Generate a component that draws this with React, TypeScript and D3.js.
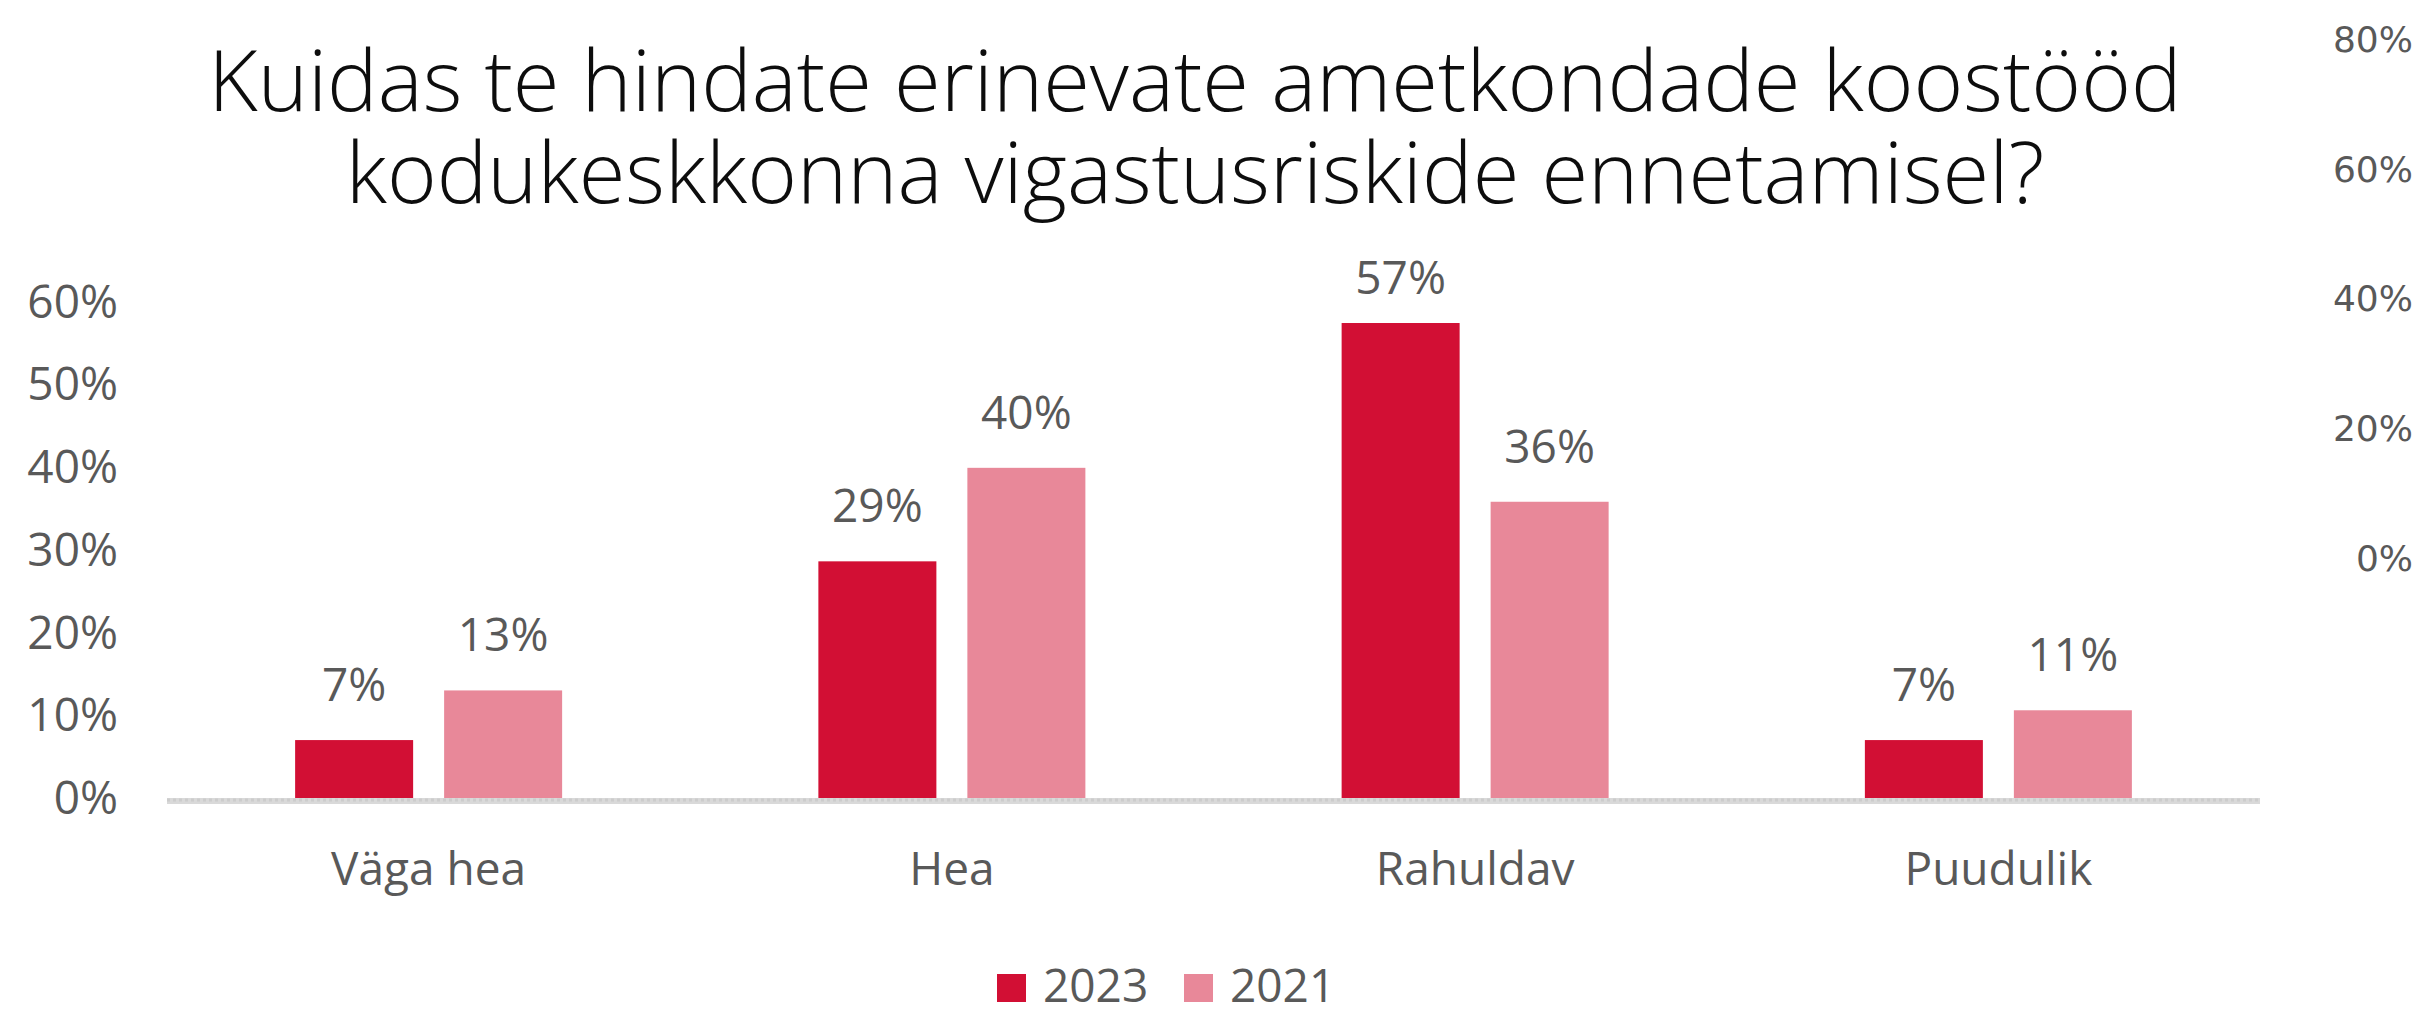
import React from "react";
import * as d3 from "d3";

const titleLines = [
  "Kuidas te hindate erinevate ametkondade koostööd",
  "kodukeskkonna vigastusriskide ennetamisel?",
];
const categories = ["Väga hea", "Hea", "Rahuldav", "Puudulik"];
const seriesNames = ["2023", "2021"];
const values2023 = [7, 28.6, 57.4, 7];
const values2021 = [13, 39.9, 35.8, 10.6];
const leftTicks = [0, 10, 20, 30, 40, 50, 60];
const rightTicks = [0, 20, 40, 60, 80];
const colors = ["#D20F34", "#E88899"];

const W = 2429;
const H = 1009;

export default function App() {
  const x0 = d3.scaleBand<string>().domain(categories).range([167, 2260]).padding(0);
  const x1 = d3
    .scaleBand<string>()
    .domain(seriesNames)
    .range([-133.5, 133.5])
    .paddingInner(0.208)
    .paddingOuter(0);
  const y = d3.scaleLinear().domain([0, 60]).range([798, 301.5]);
  const yR = d3.scaleLinear().domain([0, 80]).range([558, 39]);
  const series = [values2023, values2021];
  const fmt = (v: number) => `${Math.round(v)}%`;
  const labelFont = "'Open Sans', 'Noto Sans', sans-serif";
  const textColor = "#595959";

  return (
    <svg
      width={W}
      height={H}
      style={{ position: "absolute", left: 0, top: 0, display: "block", background: "#fff" }}
    >
      {/* title */}
      {titleLines.map((t, i) => (
        <text
          key={t}
          x={1195}
          y={111 + i * 92}
          textAnchor="middle"
          fontFamily={labelFont}
          fontWeight={300}
          fontSize={85}
          fill="#0d0d0d"
        >
          {t}
        </text>
      ))}

      {/* left axis */}
      {leftTicks.map((t) => (
        <text
          key={"l" + t}
          x={118}
          y={y(t)}
          dy="0.35em"
          textAnchor="end"
          fontFamily={labelFont}
          fontSize={46}
          fill={textColor}
        >
          {t}%
        </text>
      ))}

      {/* right axis */}
      {rightTicks.map((t) => (
        <text
          key={"r" + t}
          x={2413}
          y={yR(t)}
          dy="0.36em"
          textAnchor="end"
          fontFamily="'DejaVu Sans', sans-serif"
          fontSize={36}
          fill={textColor}
        >
          {t}%
        </text>
      ))}

      {/* bars */}
      {categories.map((c, ci) => {
        const cx = (x0(c) as number) + x0.bandwidth() / 2;
        return (
          <g key={c}>
            {seriesNames.map((s, si) => {
              const v = series[si][ci];
              const bx = cx + (x1(s) as number);
              const bw = x1.bandwidth();
              const top = y(v);
              const labelY = Math.max(top - 39, y(60) - 8);
              return (
                <g key={s}>
                  <rect x={bx} y={top} width={bw} height={y(0) - top} fill={colors[si]} />
                  <text
                    x={bx + bw / 2}
                    y={labelY}
                    textAnchor="middle"
                    fontFamily={labelFont}
                    fontSize={46}
                    fill={textColor}
                  >
                    {fmt(v)}
                  </text>
                </g>
              );
            })}
            <text
              x={cx}
              y={885}
              textAnchor="middle"
              fontFamily={labelFont}
              fontSize={46}
              fill={textColor}
            >
              {c}
            </text>
          </g>
        );
      })}

      {/* baseline */}
      <line x1={167} x2={2260} y1={801} y2={801} stroke="#d9d9d9" strokeWidth={6} />
      <line
        x1={167}
        x2={2260}
        y1={800}
        y2={800}
        stroke="#cccccc"
        strokeWidth={3}
        strokeDasharray="3 3"
      />

      {/* legend */}
      {seriesNames.map((s, i) => {
        const lx = 997 + i * 187;
        return (
          <g key={"lg" + s}>
            <rect x={lx} y={974} width={29} height={28} fill={colors[i]} />
            <text
              x={lx + 46}
              y={1002}
              fontFamily={labelFont}
              fontSize={46}
              fill={textColor}
            >
              {s}
            </text>
          </g>
        );
      })}
    </svg>
  );
}
